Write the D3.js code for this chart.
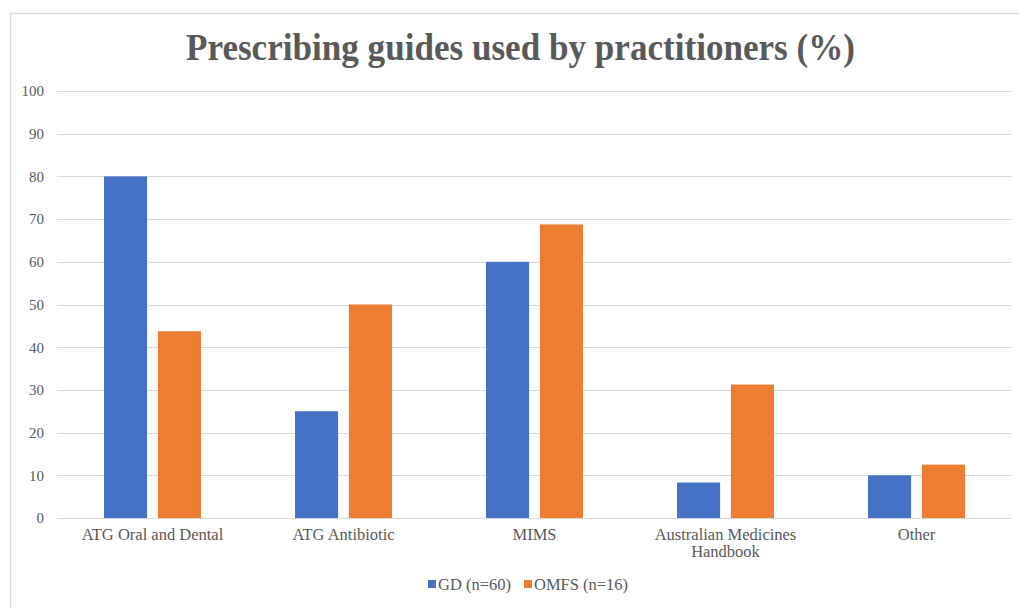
<!DOCTYPE html>
<html>
<head>
<meta charset="utf-8">
<script src="https://cdn.jsdelivr.net/npm/d3@7"></script>
<style>
  body { margin: 0; background: #fff; }
  text { font-family: "Liberation Serif", "DejaVu Serif", serif; fill: #595959; }
</style>
</head>
<body>
<div id="chart"></div>
<script>
const categories = ["ATG Oral and Dental", "ATG Antibiotic", "MIMS", "Australian Medicines Handbook", "Other"]
const seriesNames = ["GD (n=60)", "OMFS (n=16)"]
const gdValues = [80, 25, 60, 8.3, 10]
const omfsValues = [43.75, 50, 68.75, 31.25, 12.5]
const yTicks = [0, 10, 20, 30, 40, 50, 60, 70, 80, 90, 100]
const colors = ["#4472C4", "#ED7D31"]

const width = 1019
const height = 608
const margin = {top: 91, right: 7, bottom: 90, left: 57}

const svg = d3.select("#chart")
    .append("svg")
    .attr("width", width)
    .attr("height", height)

// chart area border
svg.append("rect")
    .attr("x", 10.5)
    .attr("y", 13.5)
    .attr("width", width)
    .attr("height", height)
    .attr("fill", "none")
    .attr("stroke", "#d9d9d9")
    .attr("stroke-width", 1.5)

const xScale = d3.scaleBand()
    .domain(categories)
    .range([margin.left, width - margin.right])
const xInner = d3.scaleBand()
    .domain(seriesNames)
    .range([47, xScale.bandwidth() - 47])
    .paddingInner(0.2)
const yScale = d3.scaleLinear()
    .domain([0, 100])
    .range([height - margin.bottom, margin.top])

// gridlines
svg.append("g")
    .selectAll("line")
    .data(yTicks)
    .join("line")
    .attr("x1", margin.left)
    .attr("x2", width - margin.right)
    .attr("y1", d => Math.round(yScale(d)) + 0.5)
    .attr("y2", d => Math.round(yScale(d)) + 0.5)
    .attr("stroke", "#d9d9d9")
    .attr("stroke-width", 1.2)

// y tick labels
const yAxis = svg.append("g")
    .attr("transform", "translate(" + (margin.left - 13) + ",0)")
    .call(d3.axisLeft(yScale).tickValues(yTicks).tickSize(0).tickPadding(0))
yAxis.select(".domain").remove()
yAxis.selectAll("text")
    .style("font-size", "15px")
    .style("font-family", "Liberation Serif, serif")
    .attr("fill", "#595959")

const rows = categories.map((c, i) => ({category: c, values: [gdValues[i], omfsValues[i]]}))

const groups = svg.append("g")
    .selectAll("g")
    .data(rows)
    .join("g")
    .attr("transform", d => "translate(" + xScale(d.category) + ",0)")
groups.selectAll("rect")
    .data(d => d.values.map((v, j) => ({name: seriesNames[j], value: v, color: colors[j]})))
    .join("rect")
    .attr("x", d => xInner(d.name))
    .attr("width", xInner.bandwidth())
    .attr("y", d => yScale(d.value))
    .attr("height", d => yScale(0) - yScale(d.value))
    .attr("fill", d => d.color)

// category labels
const xAxis = svg.append("g")
    .attr("transform", "translate(0," + yScale(0) + ")")
    .call(d3.axisBottom(xScale).tickSize(0).tickPadding(0))
xAxis.select(".domain").remove()
xAxis.selectAll("text").remove()
xAxis.selectAll(".tick")
    .append("text")
    .attr("text-anchor", "middle")
    .style("font-size", "16.5px")
    .attr("fill", "#595959")
    .each(function (d) {
        const lines = d === "Australian Medicines Handbook" ? ["Australian Medicines", "Handbook"] : [d]
        d3.select(this).selectAll("tspan")
            .data(lines)
            .join("tspan")
            .attr("x", 0)
            .attr("y", (l, i) => 22 + i * 17)
            .text(l => l)
    })

// title
svg.append("text")
    .attr("x", 520.5)
    .attr("y", 60)
    .attr("text-anchor", "middle")
    .attr("textLength", 669)
    .attr("lengthAdjust", "spacingAndGlyphs")
    .style("font-size", "37px")
    .style("font-weight", "bold")
    .text("Prescribing guides used by practitioners (%)")

// legend
const legendX = [428, 524]
const legend = svg.append("g")
    .selectAll("g")
    .data(seriesNames)
    .join("g")
    .attr("transform", (d, i) => "translate(" + legendX[i] + ",580)")
legend.append("rect")
    .attr("width", 8)
    .attr("height", 8)
    .attr("fill", (d, i) => colors[i])
legend.append("text")
    .attr("x", 10)
    .attr("y", 10)
    .style("font-size", "16.5px")
    .text(d => d)
</script>
</body>
</html>
